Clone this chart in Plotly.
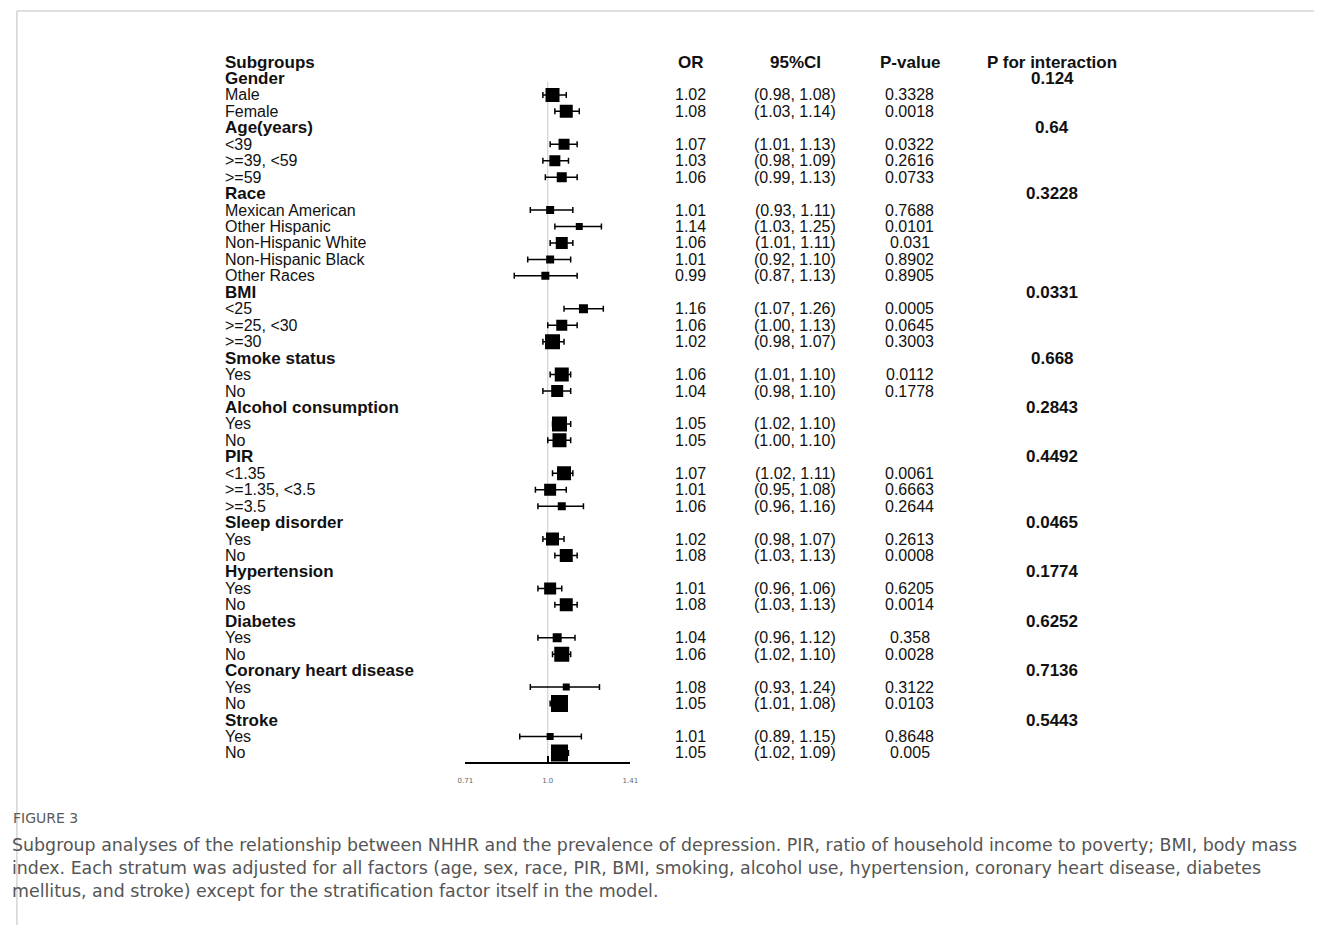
import math
import plotly.graph_objects as go

# ---- data -----------------------------------------------------------------
group_names = ["Gender", "Age(years)", "Race", "BMI", "Smoke status",
               "Alcohol consumption", "PIR", "Sleep disorder", "Hypertension",
               "Diabetes", "Coronary heart disease", "Stroke"]
group_sizes = [2, 3, 5, 3, 2, 2, 3, 2, 2, 2, 2, 2]
p_interaction = ["0.124", "0.64", "0.3228", "0.0331", "0.668", "0.2843",
                 "0.4492", "0.0465", "0.1774", "0.6252", "0.7136", "0.5443"]

sub_labels = ["Male", "Female",
              "<39", ">=39, <59", ">=59",
              "Mexican American", "Other Hispanic", "Non-Hispanic White",
              "Non-Hispanic Black", "Other Races",
              "<25", ">=25, <30", ">=30",
              "Yes", "No",
              "Yes", "No",
              "<1.35", ">=1.35, <3.5", ">=3.5",
              "Yes", "No",
              "Yes", "No",
              "Yes", "No",
              "Yes", "No",
              "Yes", "No"]
odds_ratio = [1.02, 1.08,
              1.07, 1.03, 1.06,
              1.01, 1.14, 1.06, 1.01, 0.99,
              1.16, 1.06, 1.02,
              1.06, 1.04,
              1.05, 1.05,
              1.07, 1.01, 1.06,
              1.02, 1.08,
              1.01, 1.08,
              1.04, 1.06,
              1.08, 1.05,
              1.01, 1.05]
ci_low = [0.98, 1.03,
          1.01, 0.98, 0.99,
          0.93, 1.03, 1.01, 0.92, 0.87,
          1.07, 1.00, 0.98,
          1.01, 0.98,
          1.02, 1.00,
          1.02, 0.95, 0.96,
          0.98, 1.03,
          0.96, 1.03,
          0.96, 1.02,
          0.93, 1.01,
          0.89, 1.02]
ci_high = [1.08, 1.14,
           1.13, 1.09, 1.13,
           1.11, 1.25, 1.11, 1.10, 1.13,
           1.26, 1.13, 1.07,
           1.10, 1.10,
           1.10, 1.10,
           1.11, 1.08, 1.16,
           1.07, 1.13,
           1.06, 1.13,
           1.12, 1.10,
           1.24, 1.08,
           1.15, 1.09]
p_values = ["0.3328", "0.0018",
            "0.0322", "0.2616", "0.0733",
            "0.7688", "0.0101", "0.031", "0.8902", "0.8905",
            "0.0005", "0.0645", "0.3003",
            "0.0112", "0.1778",
            "", "",
            "0.0061", "0.6663", "0.2644",
            "0.2613", "0.0008",
            "0.6205", "0.0014",
            "0.358", "0.0028",
            "0.3122", "0.0103",
            "0.8648", "0.005"]
box_sizes = [14, 13,
             11, 11, 10,
             8, 7, 12, 8, 8,
             9, 11, 15,
             14, 12,
             15, 14,
             14, 12, 8,
             13, 13,
             12, 13,
             9, 15,
             7, 17,
             7, 17]
tick_values = [0.71, 1.0, 1.41]
tick_labels = ["0.71", "1.0", "1.41"]

caption_head = "FIGURE 3"
caption_lines = [
    "Subgroup analyses of the relationship between NHHR and the prevalence of depression. PIR, ratio of household income to poverty; BMI, body mass",
    "index. Each stratum was adjusted for all factors (age, sex, race, PIR, BMI, smoking, alcohol use, hypertension, coronary heart disease, diabetes",
    "mellitus, and stroke) except for the stratification factor itself in the model.",
]

# ---- page geometry ------------------------------------------------------------
W, H = 1322, 925
ROW0_PX, ROW_STEP = 62.0, 16.45          # pixel centre of row 0 and row pitch
PLOT_TOP, PLOT_BOTTOM = 40, 762
PLOT_LEFT, PLOT_RIGHT = 463, 630


def px_x(px):
    return px / W


def px_y(py):
    return 1 - py / H


# row index for every subgroup entry and every group heading
header_rows, sub_rows = [], []
r = 1
for n in group_sizes:
    header_rows.append(r)
    r += 1
    for _ in range(n):
        sub_rows.append(r)
        r += 1

y_top = (PLOT_TOP - ROW0_PX) / ROW_STEP
y_bottom = (PLOT_BOTTOM - ROW0_PX) / ROW_STEP

TABLE_FONT = "Liberation Sans, Arial, sans-serif"
INK = "#111111"

fig = go.Figure()

# confidence intervals with end caps, boxes on top
fig.add_trace(go.Scatter(
    x=odds_ratio, y=sub_rows, mode="markers",
    marker=dict(symbol="square", size=box_sizes, color="black",
                opacity=1, line=dict(width=0)),
    error_x=dict(type="data", symmetric=False,
                 array=[h - o for h, o in zip(ci_high, odds_ratio)],
                 arrayminus=[o - l for o, l in zip(odds_ratio, ci_low)],
                 color="black", thickness=1.5, width=3),
    hoverinfo="skip", showlegend=False,
))

shapes = [
    # reference line at OR = 1
    dict(type="line", xref="x", yref="y", x0=1.0, x1=1.0,
         y0=1.2, y1=y_bottom, line=dict(color="#c8c8c8", width=1), layer="below"),
    # page frame
    dict(type="line", xref="paper", yref="paper", x0=px_x(9), x1=1.0,
         y0=px_y(11), y1=px_y(11), line=dict(color="#d4d4d4", width=1.5)),
    dict(type="line", xref="paper", yref="paper", x0=px_x(9), x1=px_x(9),
         y0=px_y(11), y1=0, line=dict(color="#d4d4d4", width=1.5)),
]

ann = []


def text(x_px, row, s, size, bold=False, align="left", color=INK, family=TABLE_FONT):
    ann.append(dict(
        x=px_x(x_px), xref="paper", y=row, yref="y",
        text=f"<b>{s}</b>" if bold else s, showarrow=False,
        xanchor=align, yanchor="middle",
        font=dict(family=family, size=size, color=color)))


COL_LABEL, COL_OR, COL_CI, COL_P, COL_PI = 218, 691, 797, 913, 1057

# column headings
text(COL_LABEL, 0, "Subgroups", 17, bold=True)
text(COL_OR, 0, "OR", 17, bold=True, align="center")
text(COL_CI, 0, "95%CI", 17, bold=True, align="center")
text(COL_P, 0, "P-value", 17, bold=True, align="center")
text(COL_PI, 0, "P for interaction", 17, bold=True, align="center")

for g, row, pint in zip(group_names, header_rows, p_interaction):
    text(COL_LABEL, row, g, 17, bold=True)
    text(COL_PI, row, pint, 17, bold=True, align="center")

for lab, row, o, lo, hi, p in zip(sub_labels, sub_rows, odds_ratio,
                                   ci_low, ci_high, p_values):
    text(COL_LABEL, row, lab, 16)
    text(COL_OR, row, f"{o:.2f}", 16, align="center")
    text(COL_CI, row, f"({lo:.2f}, {hi:.2f})", 16, align="center")
    if p:
        text(COL_P, row, p, 16, align="center")

# caption
CAP_FONT = "DejaVu Sans, sans-serif"
ann.append(dict(x=px_x(3), y=px_y(818), xref="paper", yref="paper",
                text=caption_head, showarrow=False, xanchor="left",
                yanchor="middle",
                font=dict(family=CAP_FONT, size=14, color="#5a5a5a")))
for i, line in enumerate(caption_lines):
    ann.append(dict(x=px_x(2), y=px_y(845 + 23 * i), xref="paper", yref="paper",
                    text=line, showarrow=False, xanchor="left", yanchor="middle",
                    font=dict(family=CAP_FONT, size=17.4, color="#555555")))

fig.update_layout(
    width=W, height=H,
    margin=dict(l=0, r=0, t=0, b=0),
    paper_bgcolor="white", plot_bgcolor="white",
    shapes=shapes, annotations=ann,
    xaxis=dict(
        type="log", domain=[px_x(PLOT_LEFT), px_x(PLOT_RIGHT)],
        range=[math.log10(tick_values[0]), math.log10(tick_values[-1])],
        tickmode="array", tickvals=tick_values, ticktext=tick_labels,
        showline=True, linecolor="black", linewidth=1.5,
        ticks="inside", ticklen=6, tickwidth=1.5, tickcolor="black",
        showgrid=False, zeroline=False,
        tickfont=dict(family="DejaVu Sans, sans-serif", size=7, color="#666666"),
        ticklabelstandoff=11,
    ),
    yaxis=dict(
        domain=[px_y(PLOT_BOTTOM), px_y(PLOT_TOP)],
        range=[y_bottom, y_top], visible=False,
        showgrid=False, zeroline=False,
    ),
)

fig.write_html("out.html")
